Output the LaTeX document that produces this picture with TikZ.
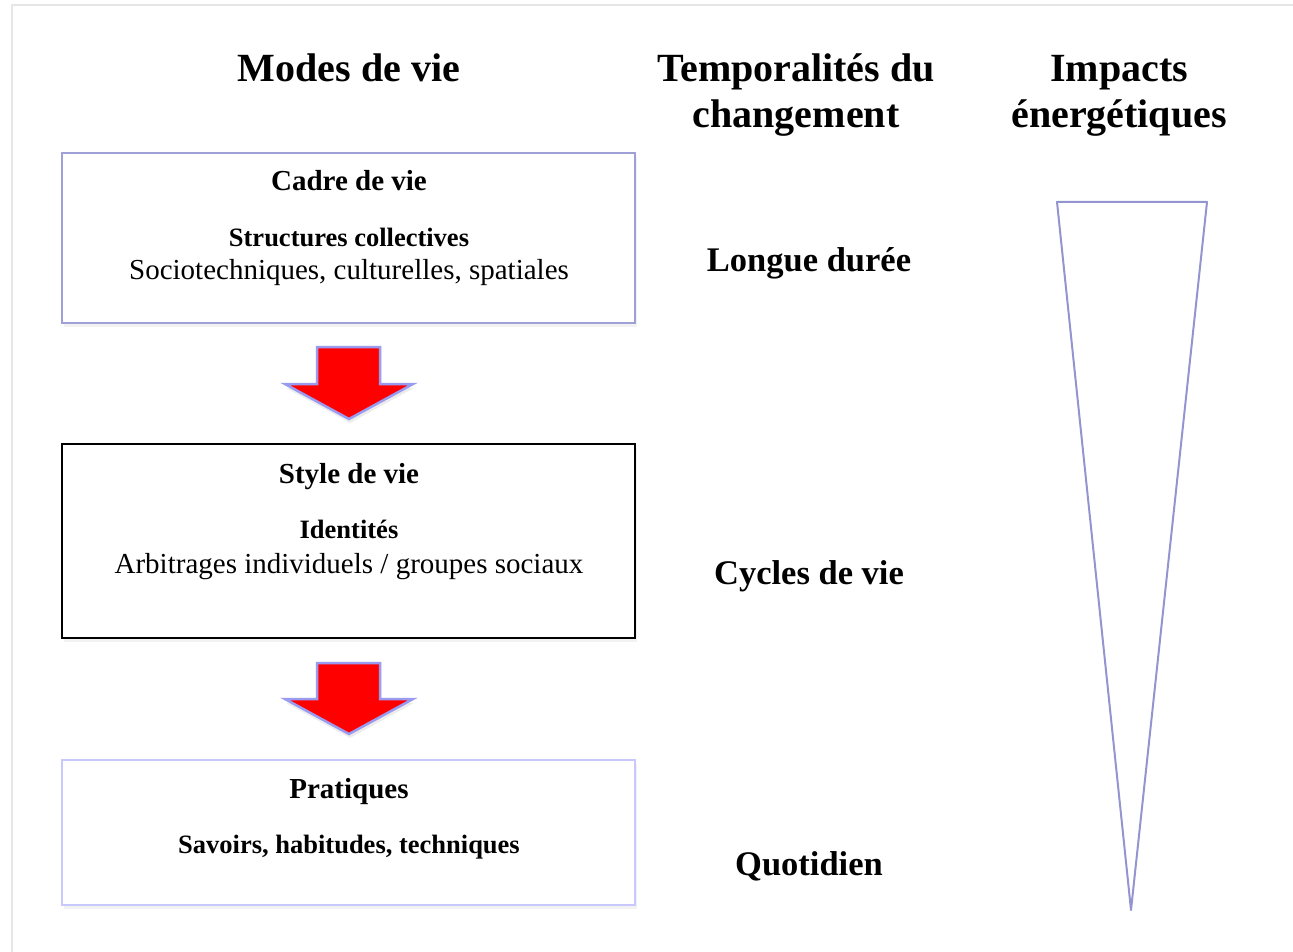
\documentclass[tikz,border=0pt]{standalone}
\usepackage{fontspec}
\setmainfont{Liberation Serif}
\usetikzlibrary{shadows}
\definecolor{boxA}{HTML}{A0A0D8}
\definecolor{boxC}{HTML}{C8C8FF}
\definecolor{arrowline}{HTML}{9A9AF0}
\definecolor{triline}{HTML}{9494D0}
\definecolor{pageedge}{HTML}{E6E6E6}
\tikzset{
  boxframe/.style={draw, line width=2pt, fill=white, inner sep=0pt,
    drop shadow={opacity=0.10, shadow xshift=2pt, shadow yshift=-4pt}},
  heading/.style={font=\fontsize{40}{46}\selectfont\bfseries, align=center, anchor=base, inner sep=0pt},
  timelabel/.style={font=\fontsize{34.5}{40}\selectfont\bfseries, anchor=base, inner sep=0pt},
  boxtitle/.style={font=\fontsize{29}{33}\selectfont\bfseries, anchor=base, inner sep=0pt},
  boxsub/.style={font=\fontsize{26.5}{30}\selectfont\bfseries, anchor=base, inner sep=0pt},
  boxtext/.style={font=\fontsize{29}{33}\selectfont, anchor=base, inner sep=0pt},
  blockarrow/.style={fill=red, draw=arrowline, line width=2.5pt, line join=miter,
    drop shadow={opacity=0.15, shadow xshift=1pt, shadow yshift=-4pt}},
}
\begin{document}
\begin{tikzpicture}[x=1pt,y=-1pt]
\useasboundingbox (0,0) rectangle (1293,952);
% faint page edge
\draw[pageedge, line width=1.5pt] (12,952) -- (12,5) -- (1293,5);

% headings
\node[heading] (hmodes) at (349,82) {Modes de vie};
\node[heading] (htemp) at (796,128) {Temporalités du\\changement};
\node[heading] (himp) at (1119,128) {Impacts\\énergétiques};

% boxes
\node[boxframe, draw=boxA, minimum width=573pt, minimum height=170pt] (box1) at (348.5,238) {};
\node[boxframe, draw=black, minimum width=573pt, minimum height=194pt] (box2) at (348.5,541) {};
\node[boxframe, draw=boxC, line width=2.5pt, minimum width=573pt, minimum height=145pt] (box3) at (348.5,832.5) {};

% box texts
\node[boxtitle] (t1) at (349,191) {Cadre de vie};
\node[boxsub] (s1) at (349,246.5) {Structures collectives};
\node[boxtext] (r1) at (349,279.5) {Sociotechniques, culturelles, spatiales};

\node[boxtitle] (t2) at (349,483.5) {Style de vie};
\node[boxsub] (s2) at (349,538) {Identités};
\node[boxtext] (r2) at (349,573) {Arbitrages individuels / groupes sociaux};

\node[boxtitle] (t3) at (349,798) {Pratiques};
\node[boxsub] (s3) at (349,853) {Savoirs, habitudes, techniques};

% block arrows
\draw[blockarrow] (317,347) -- (380,347) -- (380,384) -- (413,384) -- (349,419) -- (285,384) -- (317,384) -- cycle;
\draw[blockarrow] (317,663) -- (380,663) -- (380,699) -- (413,699) -- (349,734) -- (285,699) -- (317,699) -- cycle;

% time labels
\node[timelabel] (l1) at (809,271) {Longue durée};
\node[timelabel] (l2) at (809,584) {Cycles de vie};
\node[timelabel] (l3) at (809,875) {Quotidien};

% triangle
\coordinate (ta) at (1057,202);
\coordinate (tb) at (1207,202);
\coordinate (tc) at (1131,910);
\draw[triline, line width=2pt, line join=round] (ta) -- (tb) -- (tc) -- cycle;
\end{tikzpicture}
\end{document}
